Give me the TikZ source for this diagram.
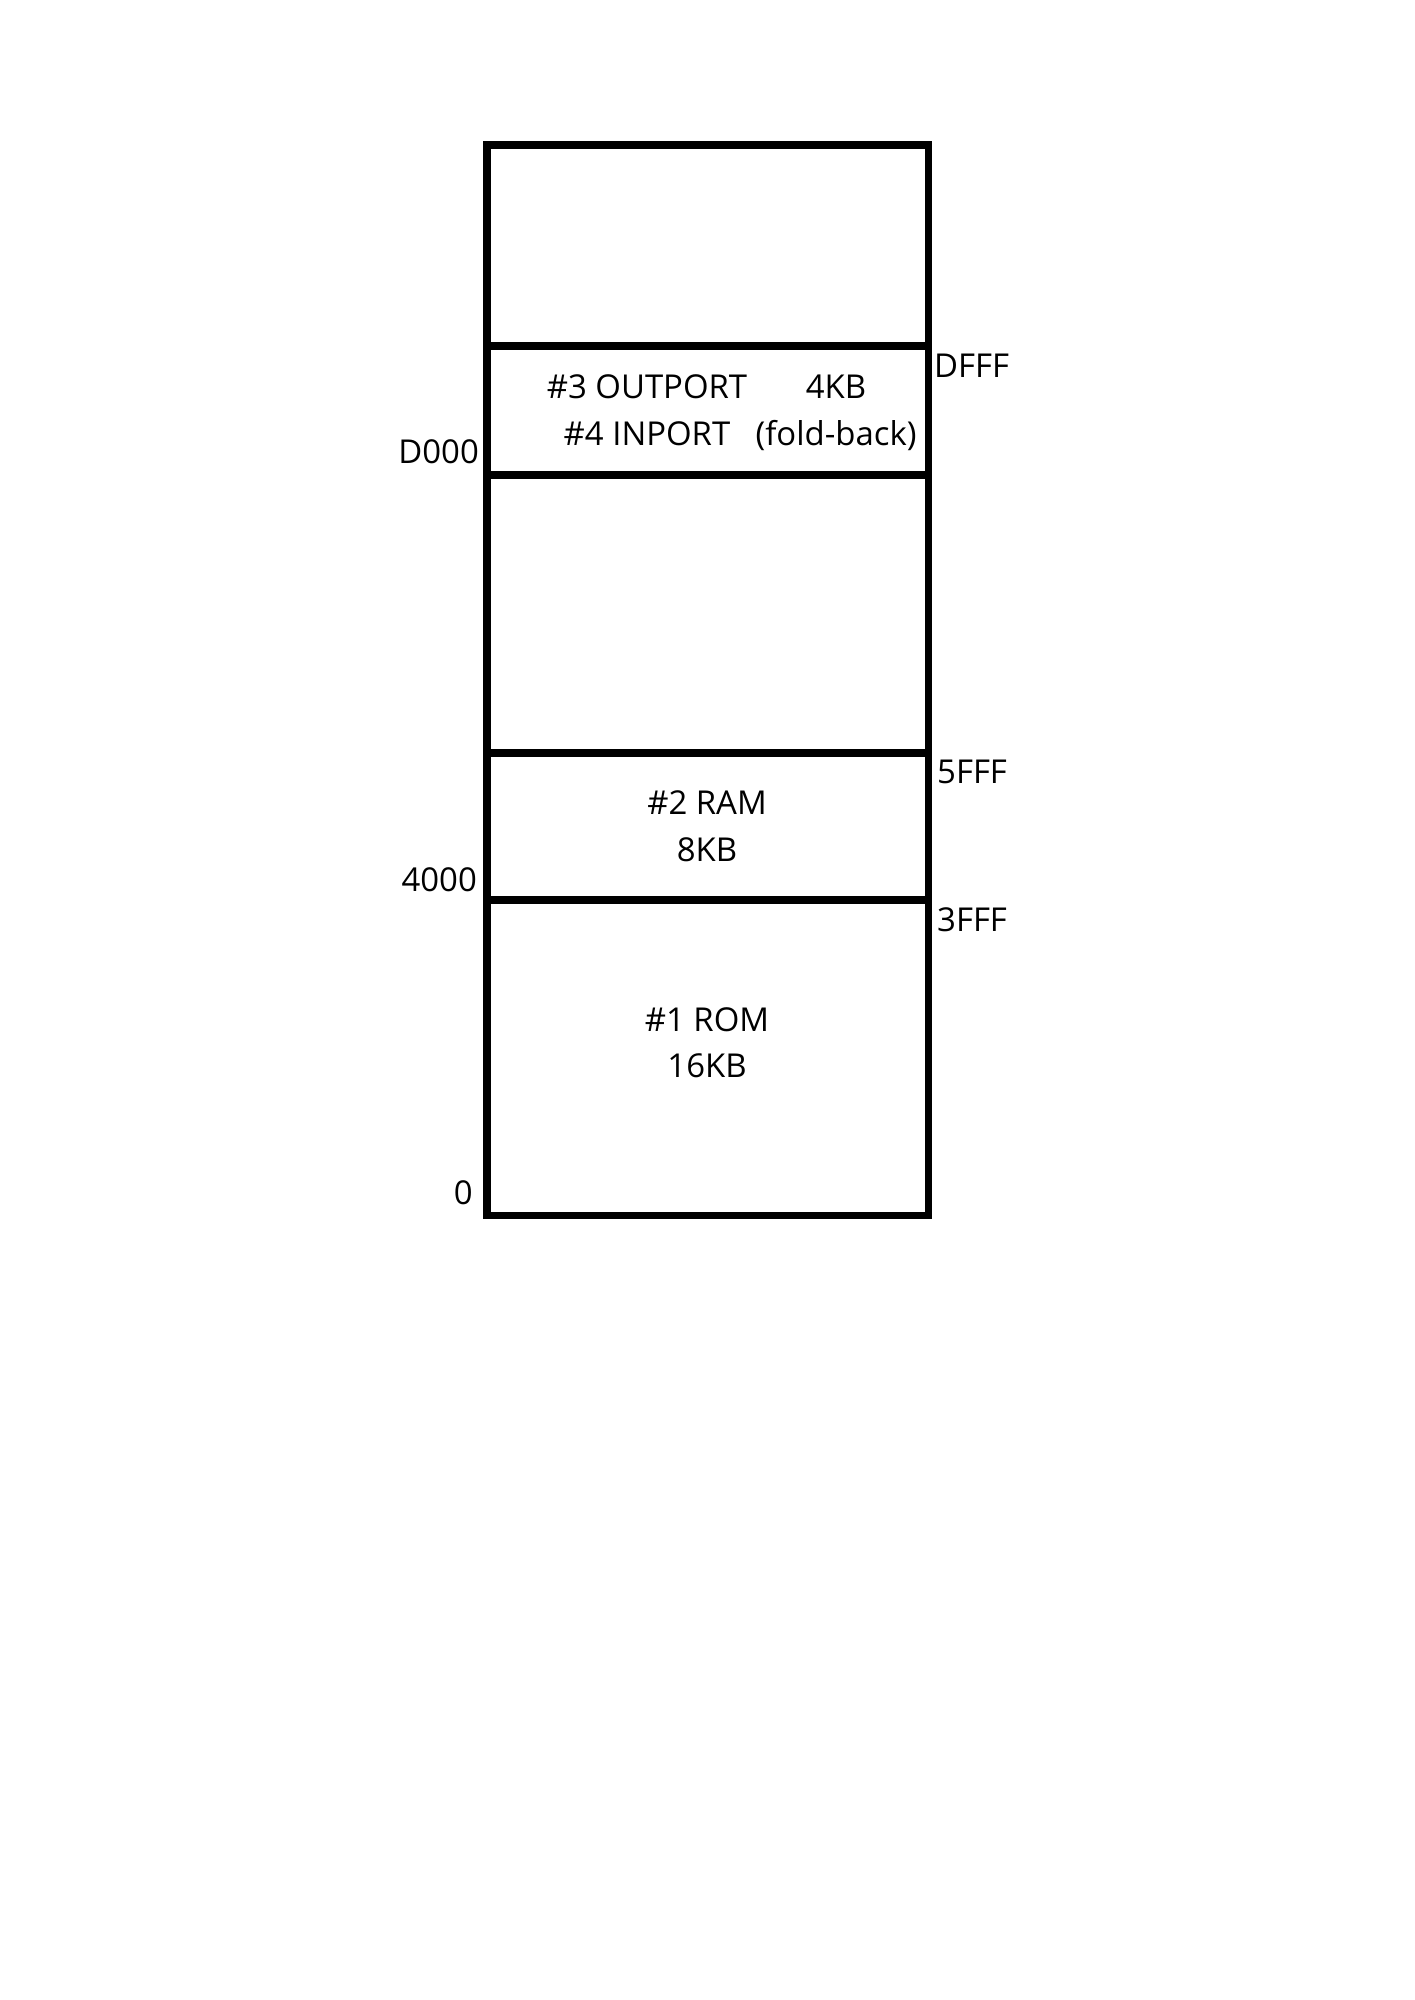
\documentclass[tikz,border=0pt]{standalone}
\usepackage{fontspec}
\setmainfont{Open Sans}
\begin{document}
\begin{tikzpicture}[x=1pt,y=-1pt,
  lbl/.style={inner sep=0pt,anchor=base,font=\fontsize{32.9}{39}\selectfont},
  lblL/.style={lbl,anchor=base west},
  lblR/.style={lbl,anchor=base east},
  wall/.style={line width=7.5pt,line cap=rect}]
\useasboundingbox[fill=white] (0,0) rectangle (1414,2000);
\coordinate (tl) at (487,145);
\coordinate (br) at (928.5,1215.5);
\draw[wall,line join=miter] (tl) rectangle (br);
\coordinate (a1) at (487,346); \coordinate (a2) at (928.5,346);
\coordinate (b1) at (487,475); \coordinate (b2) at (928.5,475);
\coordinate (c1) at (487,753); \coordinate (c2) at (928.5,753);
\coordinate (d1) at (487,900); \coordinate (d2) at (928.5,900);
\draw[wall] (a1) -- (a2);
\draw[wall] (b1) -- (b2);
\draw[wall] (c1) -- (c2);
\draw[wall] (d1) -- (d2);
\node[lbl] (outp) at (647,398) {\#3 OUTPORT};
\node[lbl] (kb4) at (836,398) {4KB};
\node[lbl] (inp) at (647,445) {\#4 INPORT};
\node[lbl] (fold) at (836,445) {(fold-back)};
\node[lblL] (dfff) at (934,377) {DFFF};
\node[lblR] (d000) at (479,463) {D000};
\node[lbl] (ram) at (707,814) {\#2 RAM};
\node[lbl] (kb8) at (707,861) {8KB};
\node[lblL] (f5) at (937,783) {5FFF};
\node[lblR] (h4) at (477,891) {4000};
\node[lblL] (f3) at (937,931) {3FFF};
\node[lbl] (rom) at (707,1031) {\#1 ROM};
\node[lbl] (kb16) at (707,1077) {16KB};
\node[lblR] (zero) at (473,1204) {0};
\end{tikzpicture}
\end{document}
